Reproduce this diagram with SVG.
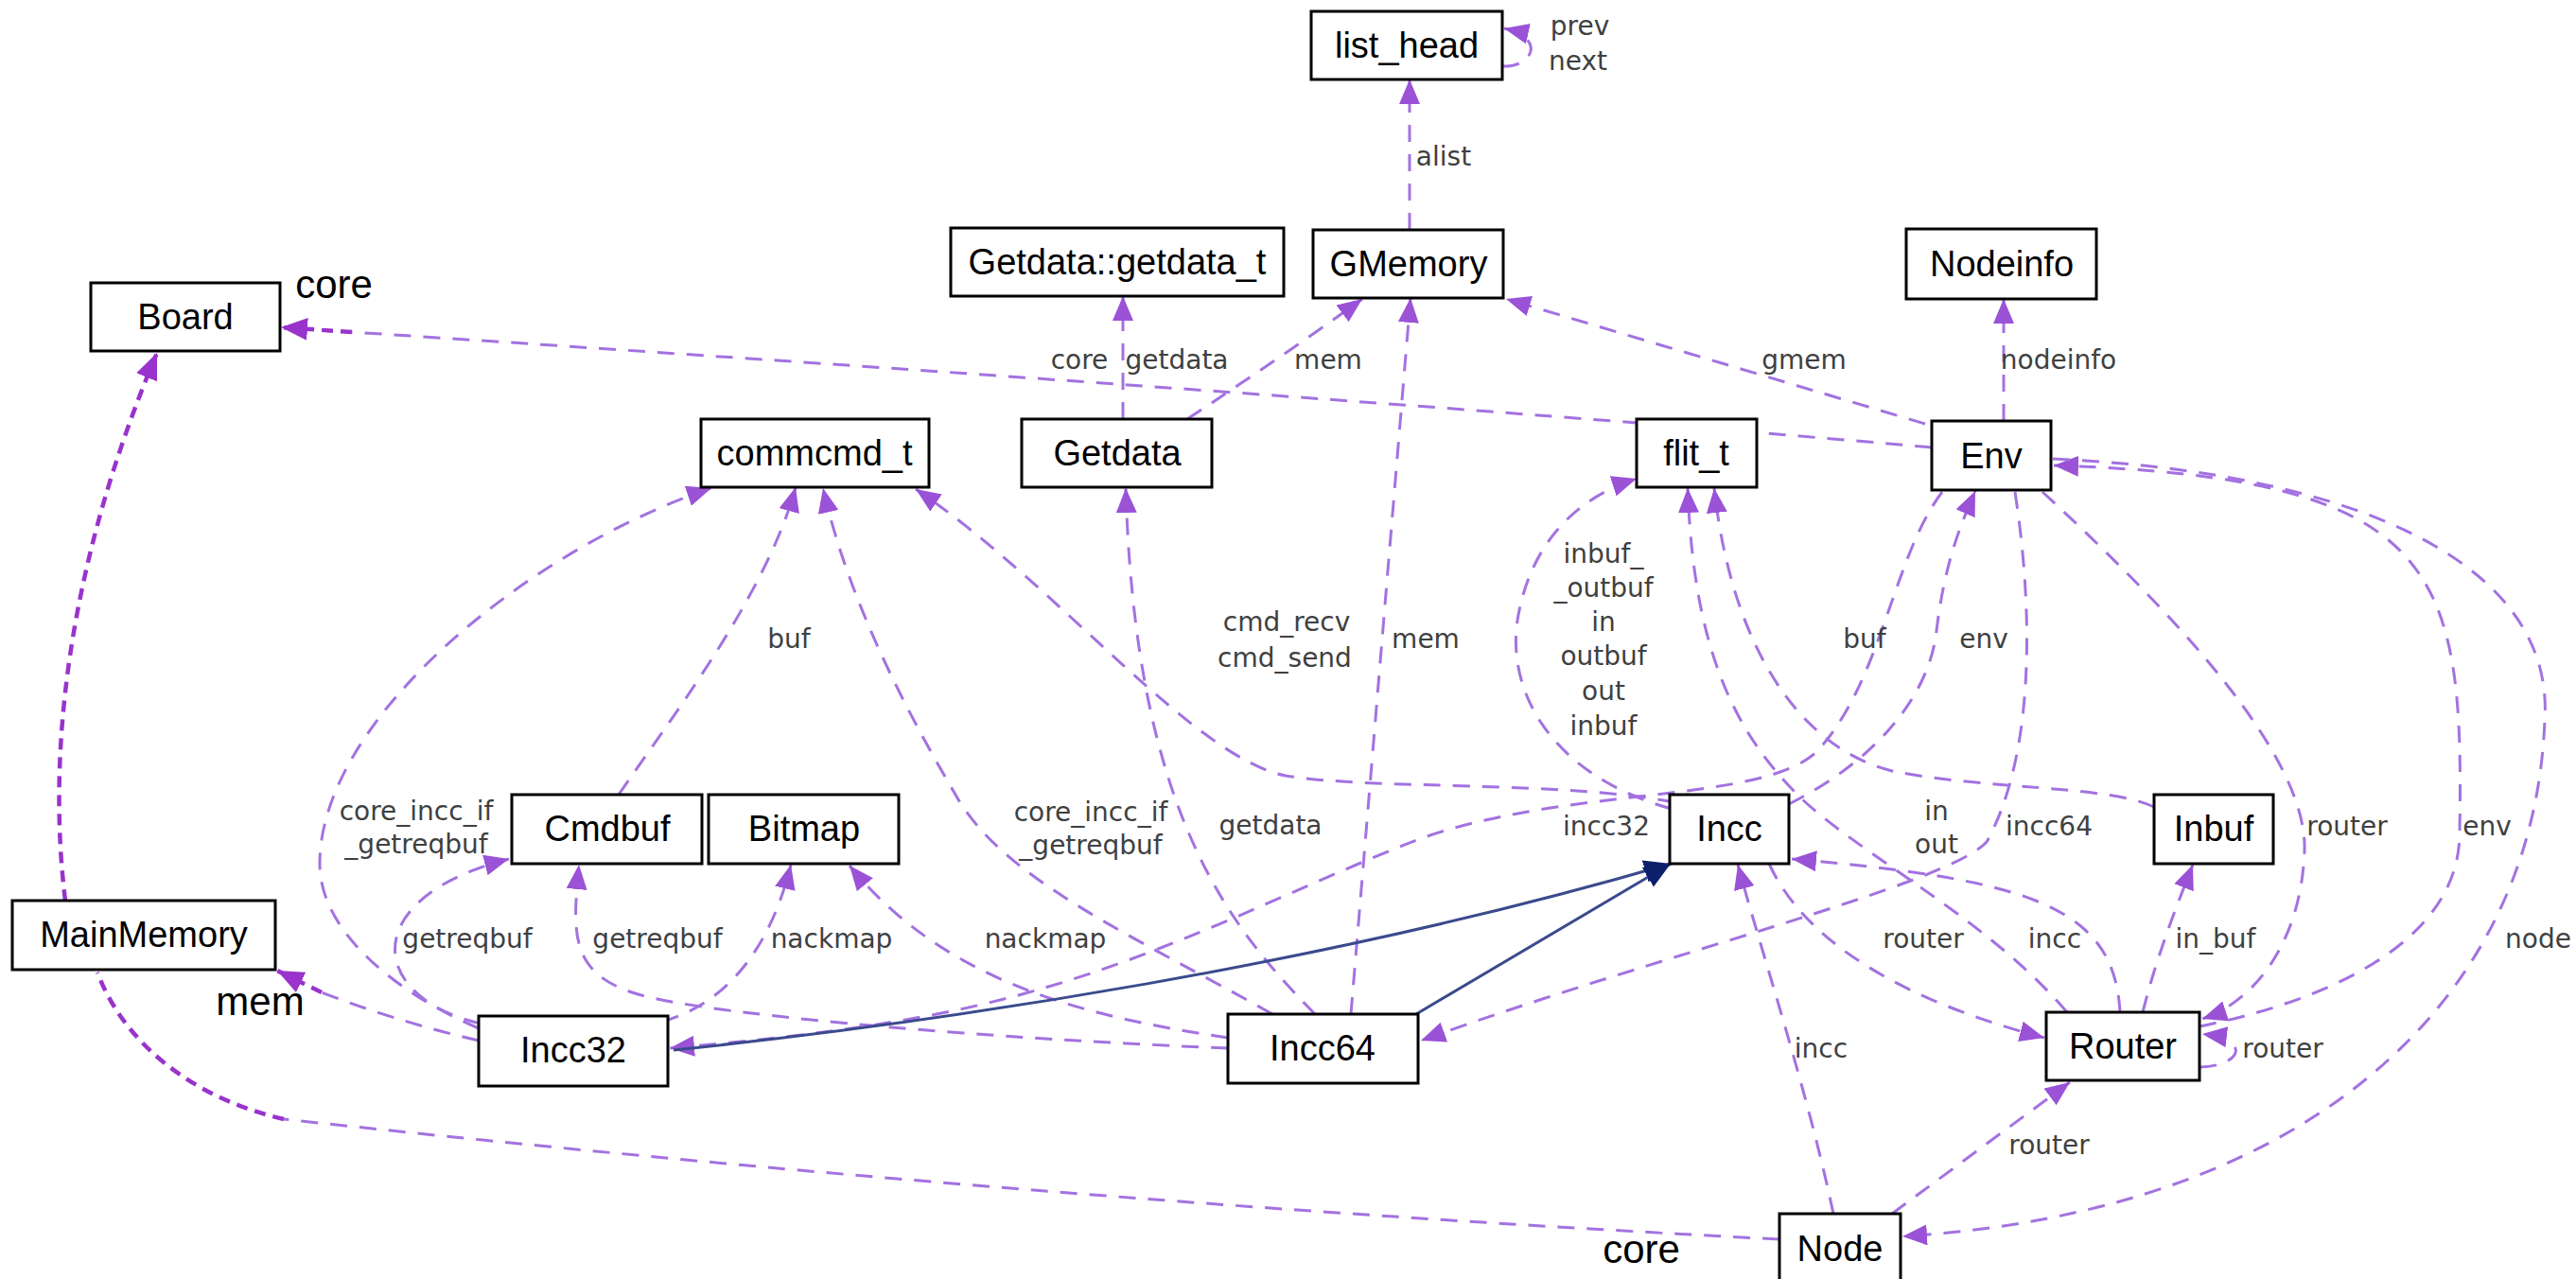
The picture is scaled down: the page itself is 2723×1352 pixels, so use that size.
<svg xmlns="http://www.w3.org/2000/svg" width="2723" height="1352" viewBox="0 0 2723 1352">
<style>
.n rect{fill:#fff;stroke:#000;stroke-width:3}
.n text{font-family:"Liberation Sans",Arial,sans-serif;font-size:38px;fill:#000;text-anchor:middle}
.e{fill:none;stroke:#a372e0;stroke-width:3;stroke-dasharray:18 13}
.s{fill:none;stroke:#9933cc;stroke-width:4.5;stroke-dasharray:12 8}
.b{fill:none;stroke:#3a4a8c;stroke-width:3}
.l{font-family:"DejaVu Sans",Verdana,sans-serif;font-size:28px;fill:#404040;text-anchor:middle}
.a{font-family:"Liberation Sans",Arial,sans-serif;font-size:42px;fill:#000;text-anchor:middle}
</style>
<defs>
<marker id="ah" viewBox="0 0 26 22" refX="26" refY="11" markerWidth="26" markerHeight="22" markerUnits="userSpaceOnUse" orient="auto"><path d="M0,0 L26,11 L0,22 z" fill="#9a52d6"/></marker>
<marker id="as" viewBox="0 0 26 22" refX="26" refY="11" markerWidth="28" markerHeight="24" markerUnits="userSpaceOnUse" orient="auto"><path d="M0,0 L26,11 L0,22 z" fill="#9933cc"/></marker>
<marker id="an" viewBox="0 0 26 22" refX="26" refY="11" markerWidth="28" markerHeight="24" markerUnits="userSpaceOnUse" orient="auto"><path d="M0,0 L26,11 L0,22 z" fill="#0c1f6b"/></marker>
</defs>
<rect width="2723" height="1352" fill="#fff"/>
<g id="connectors">
<path class="e" d="M1588 70 C1620 72 1635 40 1590 30" marker-end="url(#ah)"/>
<path class="e" d="M1490 243 L1490 84" marker-end="url(#ah)"/>
<path class="e" d="M1187 443 L1187 313" marker-end="url(#ah)"/>
<path class="e" d="M1255 443 C1290 420 1380 360 1440 316" marker-end="url(#ah)"/>
<path class="e" d="M1428 1072 L1491 315" marker-end="url(#ah)"/>
<path class="e" d="M2035 448 L1592 316" marker-end="url(#ah)"/>
<path class="e" d="M2118 445 L2118 316" marker-end="url(#ah)"/>
<path class="e" d="M2042 473 Q1500 425 372 351"/>
<path class="s" d="M372 351 L297 346" marker-end="url(#as)"/>
<path class="e" d="M654 840 C705 765 810 630 841 515" marker-end="url(#ah)"/>
<path class="e" d="M506 1087 C430 1055 338 990 338 913 C338 760 560 580 752 516" marker-end="url(#ah)"/>
<path class="e" d="M508 1082 C390 1055 375 950 538 908" marker-end="url(#ah)"/>
<path class="e" d="M506 1100 Q420 1080 340 1049"/>
<path class="s" d="M340 1049 L293 1026" marker-end="url(#as)"/>
<path class="e" d="M1298 1108 C1050 1098 780 1075 690 1055 C600 1035 605 990 612 914" marker-end="url(#ah)"/>
<path class="e" d="M1298 1097 C1150 1075 1000 1040 898 915" marker-end="url(#ah)"/>
<path class="e" d="M700 1080 C770 1060 815 1000 836 914" marker-end="url(#ah)"/>
<path class="e" d="M1345 1072 C1200 990 1060 930 1010 840 C975 780 900 650 870 516" marker-end="url(#ah)"/>
<path class="e" d="M1390 1072 C1300 980 1200 860 1190 516" marker-end="url(#ah)"/>
<path class="e" d="M1770 848 C1650 825 1450 835 1359 820 C1260 800 1120 620 968 517" marker-end="url(#ah)"/>
<path class="e" d="M1767 855 C1640 820 1590 730 1605 650 C1620 570 1670 525 1730 506" marker-end="url(#ah)"/>
<path class="e" d="M2053 520 C2000 590 1990 720 1920 795 C1860 850 1660 830 1500 887 C1350 945 1200 1030 1000 1070 C900 1090 800 1100 708 1108" marker-end="url(#ah)"/>
<path class="e" d="M1891 850 C1990 800 2040 730 2047 667 C2055 600 2070 560 2088 519" marker-end="url(#ah)"/>
<path class="e" d="M2277 853 C2230 830 2100 835 2000 815 C1900 790 1830 680 1812 516" marker-end="url(#ah)"/>
<path class="e" d="M2185 1070 C2100 970 1960 900 1900 840 C1830 770 1790 680 1784 516" marker-end="url(#ah)"/>
<path class="e" d="M2130 520 C2150 650 2150 800 2100 890 C2060 935 1750 1010 1502 1100" marker-end="url(#ah)"/>
<path class="e" d="M2159 520 C2300 650 2440 800 2436 900 C2432 1000 2380 1060 2328 1077" marker-end="url(#ah)"/>
<path class="e" d="M2325 1085 C2450 1060 2600 1000 2600 880 C2605 600 2580 505 2171 492" marker-end="url(#ah)"/>
<path class="e" d="M2170 485 C2500 500 2700 600 2690 760 C2680 1050 2450 1280 2011 1307" marker-end="url(#ah)"/>
<path class="e" d="M1870 913 C1910 1000 2020 1060 2161 1097" marker-end="url(#ah)"/>
<path class="e" d="M2241 1070 C2235 960 2150 930 1894 908" marker-end="url(#ah)"/>
<path class="e" d="M1938 1283 C1910 1150 1860 1000 1837 914" marker-end="url(#ah)"/>
<path class="e" d="M2000 1283 L2188 1144" marker-end="url(#ah)"/>
<path class="e" d="M2325 1128 C2365 1128 2385 1100 2328 1093" marker-end="url(#ah)"/>
<path class="e" d="M2265 1070 C2280 1010 2300 960 2318 914" marker-end="url(#ah)"/>
<path class="s" d="M69 952 C50 800 70 600 166 373" marker-end="url(#as)"/>
<path class="e" d="M1881 1310 Q1100 1270 300 1183"/>
<path class="s" d="M300 1183 C200 1160 130 1100 103 1028"/>
<path class="b" d="M712 1110 C1000 1080 1400 1020 1766 913" marker-end="url(#an)"/>
<path class="b" d="M1497 1072 L1766 913" marker-end="url(#an)"/>
</g>
<g id="edge-labels">
<text class="l" x="1670" y="37">prev</text>
<text class="l" x="1668" y="74">next</text>
<text class="l" x="1526" y="175">alist</text>
<text class="l" x="1141" y="390">core</text>
<text class="l" x="1244" y="390">getdata</text>
<text class="l" x="1404" y="390">mem</text>
<text class="l" x="1907" y="390">gmem</text>
<text class="l" x="2176" y="390">nodeinfo</text>
<text class="l" x="834" y="685">buf</text>
<text class="l" x="1360" y="667">cmd_recv</text>
<text class="l" x="1358" y="705">cmd_send</text>
<text class="l" x="1507" y="685">mem</text>
<text class="l" x="1695" y="595">inbuf_</text>
<text class="l" x="1695" y="631">_outbuf</text>
<text class="l" x="1695" y="667">in</text>
<text class="l" x="1695" y="703">outbuf</text>
<text class="l" x="1695" y="740">out</text>
<text class="l" x="1695" y="777">inbuf</text>
<text class="l" x="1971" y="685">buf</text>
<text class="l" x="2097" y="685">env</text>
<text class="l" x="440" y="867">core_incc_if</text>
<text class="l" x="440" y="902">_getreqbuf</text>
<text class="l" x="1153" y="868">core_incc_if</text>
<text class="l" x="1153" y="903">_getreqbuf</text>
<text class="l" x="1343" y="882">getdata</text>
<text class="l" x="1698" y="883">incc32</text>
<text class="l" x="2047" y="867">in</text>
<text class="l" x="2047" y="902">out</text>
<text class="l" x="2166" y="883">incc64</text>
<text class="l" x="2481" y="883">router</text>
<text class="l" x="2629" y="883">env</text>
<text class="l" x="494" y="1002">getreqbuf</text>
<text class="l" x="695" y="1002">getreqbuf</text>
<text class="l" x="879" y="1002">nackmap</text>
<text class="l" x="1105" y="1002">nackmap</text>
<text class="l" x="2033" y="1002">router</text>
<text class="l" x="2172" y="1002">incc</text>
<text class="l" x="2342" y="1002">in_buf</text>
<text class="l" x="2683" y="1002">node</text>
<text class="l" x="1925" y="1118">incc</text>
<text class="l" x="2413" y="1118">router</text>
<text class="l" x="2166" y="1220">router</text>
</g>
<g id="node-list_head" class="n"><rect x="1386" y="12" width="202" height="72"/><text x="1487" y="61">list_head</text></g>
<g id="node-getdata_t" class="n"><rect x="1005" y="241" width="352" height="72"/><text x="1181" y="290">Getdata::getdata_t</text></g>
<g id="node-GMemory" class="n"><rect x="1388" y="243" width="201" height="72"/><text x="1489" y="292">GMemory</text></g>
<g id="node-Nodeinfo" class="n"><rect x="2015" y="242" width="201" height="74"/><text x="2116" y="292">Nodeinfo</text></g>
<g id="node-Board" class="n"><rect x="96" y="299" width="200" height="72"/><text x="196" y="348">Board</text></g>
<g id="node-commcmd_t" class="n"><rect x="741" y="443" width="241" height="72"/><text x="861" y="492">commcmd_t</text></g>
<g id="node-Getdata" class="n"><rect x="1080" y="443" width="201" height="72"/><text x="1181" y="492">Getdata</text></g>
<g id="node-flit_t" class="n"><rect x="1730" y="443" width="127" height="72"/><text x="1793" y="492">flit_t</text></g>
<g id="node-Env" class="n"><rect x="2042" y="445" width="126" height="73"/><text x="2105" y="495">Env</text></g>
<g id="node-Cmdbuf" class="n"><rect x="541" y="840" width="201" height="73"/><text x="642" y="889">Cmdbuf</text></g>
<g id="node-Bitmap" class="n"><rect x="749" y="840" width="201" height="73"/><text x="850" y="889">Bitmap</text></g>
<g id="node-Incc" class="n"><rect x="1765" y="840" width="126" height="73"/><text x="1828" y="889">Incc</text></g>
<g id="node-Inbuf" class="n"><rect x="2277" y="840" width="126" height="73"/><text x="2340" y="889">Inbuf</text></g>
<g id="node-MainMemory" class="n"><rect x="13" y="952" width="278" height="73"/><text x="152" y="1001">MainMemory</text></g>
<g id="node-Incc32" class="n"><rect x="506" y="1074" width="200" height="74"/><text x="606" y="1123">Incc32</text></g>
<g id="node-Incc64" class="n"><rect x="1298" y="1072" width="201" height="73"/><text x="1398" y="1121">Incc64</text></g>
<g id="node-Router" class="n"><rect x="2163" y="1070" width="162" height="72"/><text x="2244" y="1119">Router</text></g>
<g id="node-Node" class="n"><rect x="1881" y="1283" width="128" height="80"/><text x="1945" y="1333">Node</text></g>
<g id="annotations">
<text class="a" x="353" y="315">core</text>
<text class="a" x="275" y="1073">mem</text>
<text class="a" x="1735" y="1335">core</text>
</g>
</svg>
